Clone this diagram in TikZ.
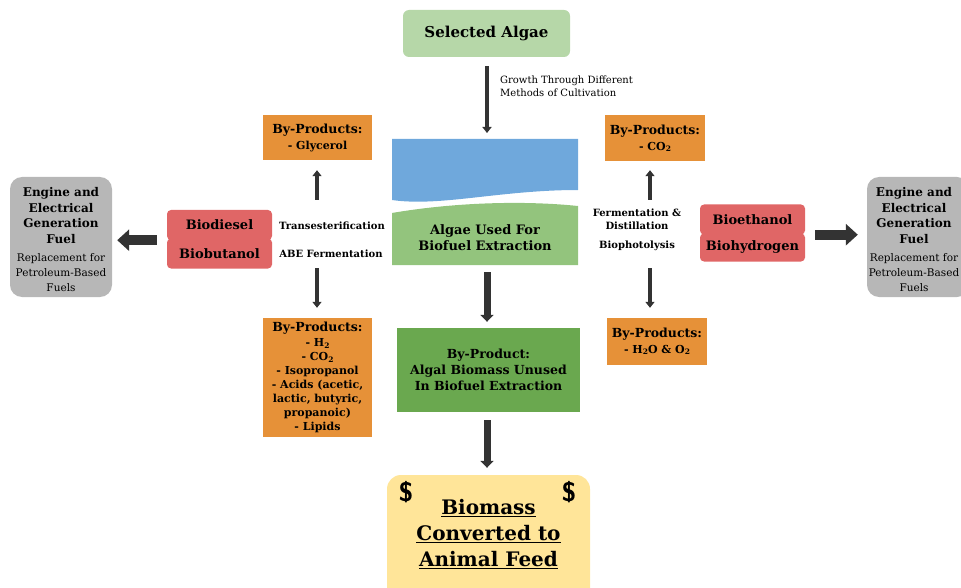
\documentclass[tikz,border=0pt]{standalone}
\usepackage{fontspec}
\setmainfont{DejaVu Serif}
\usepackage{tikz}
\usetikzlibrary{arrows.meta, positioning, calc}
\definecolor{algaelight}{HTML}{B6D7A8}
\definecolor{watercol}{HTML}{6FA8DC}
\definecolor{algaemid}{HTML}{93C47D}
\definecolor{algaedark}{HTML}{6AA84F}
\definecolor{byorange}{HTML}{E69138}
\definecolor{fuelred}{HTML}{E06666}
\definecolor{enginegray}{HTML}{B7B7B7}
\definecolor{feedyellow}{HTML}{FFE599}
\definecolor{arrowgray}{HTML}{333333}
\newcommand{\byitem}{\fontsize{11}{13.4}\selectfont}
\newcommand{\chemsub}[1]{\raisebox{-0.25ex}{\fontsize{7.5}{8}\selectfont #1}}

\begin{document}
\begin{tikzpicture}[
    x=1pt, y=-1pt,
    algaebox/.style={rounded corners=6pt, fill=algaelight, minimum width=167pt,
                     minimum height=47pt, align=center,
                     font=\fontsize{15}{18}\selectfont\bfseries},
    byprod/.style={fill=byorange, minimum width=109pt, align=center,
                   font=\fontsize{12.5}{14}\selectfont\bfseries, inner sep=3pt},
    fuel/.style={rounded corners=4pt, fill=fuelred, minimum width=105pt,
                 minimum height=30pt, align=center,
                 font=\fontsize{13}{15}\selectfont\bfseries},
    engine/.style={rounded corners=12pt, fill=enginegray, minimum width=102pt,
                   minimum height=120pt, align=center},
    procnote/.style={align=center, font=\fontsize{10}{13}\selectfont\bfseries},
    thinarr/.style={-{Triangle[width=9pt,length=6pt]}, line width=4pt, arrowgray},
    midarr/.style={-{Triangle[width=13pt,length=7pt]}, line width=7pt, arrowgray},
    bigarr/.style={-{Triangle[width=21pt,length=12pt]}, line width=10pt, arrowgray}
]
\useasboundingbox (0,0) rectangle (961,588);

% Haut : algues choisies
\node[algaebox] (sel) at (486.5,33.5) {Selected Algae};
\node[align=left, anchor=north west, inner sep=0pt,
      font=\fontsize{10}{13}\selectfont] (grow) at (500,76)
      {Growth Through Different\\Methods of Cultivation};

% Culture : eau + algues
\fill[watercol] (392,139) -- (578,139) -- (578,190)
    .. controls (500,190) and (440,207) .. (392,200) -- cycle;
\fill[algaemid] (392,213) .. controls (450,203) and (520,200) .. (578,206)
    -- (578,265) -- (392,265) -- cycle;
\coordinate (water) at (487,139);
\node[align=center, font=\fontsize{13}{16}\selectfont\bfseries] (used) at (485,238)
      {Algae Used For\\Biofuel Extraction};
\coordinate (usedbot) at (487,265);

% Sous-produit et alimentation animale
\node[fill=algaedark, minimum width=183pt, minimum height=84pt, align=center,
      font=\fontsize{12.5}{16}\selectfont\bfseries] (unused) at (488.5,370)
      {By-Product:\\Algal Biomass Unused\\In Biofuel Extraction};
\node[rounded corners=14pt, fill=feedyellow, minimum width=203pt, minimum height=128pt]
      (feed) at (488.5,539) {};
\node[align=center, font=\fontsize{20}{26}\selectfont\bfseries] (feedtxt) at (488.5,534)
      {\underline{Biomass}\\\underline{Converted to}\\\underline{Animal Feed}};
\node[font=\fontsize{27}{30}\selectfont\bfseries\sffamily] (dolla) at (406,492) {\$};
\node[font=\fontsize{27}{30}\selectfont\bfseries\sffamily] (dollb) at (569,492) {\$};

% Colonne gauche : biodiesel / biobutanol
\node[byprod, minimum height=45pt] (glyc) at (317.5,137.5)
      {By-Products:\\[2pt]\byitem - Glycerol};
\node[byprod, minimum height=119pt] (abe) at (317.5,377.5)
      {By-Products:\\[1pt]\byitem - H\chemsub{2}\\\byitem - CO\chemsub{2}\\\byitem - Isopropanol\\
       \byitem - Acids (acetic,\\\byitem lactic, butyric,\\\byitem propanoic)\\\byitem - Lipids};
\node[fuel] (diesel) at (219.5,225) {Biodiesel};
\node[fuel] (butanol) at (219.5,253.5) {Biobutanol};
\node[procnote] (trans) at (332,226) {Transesterification};
\node[procnote] (abefer) at (331,254) {ABE Fermentation};
\node[engine] (engl) at (61,237) {};
\node[align=center, anchor=north, font=\fontsize{12}{15.5}\selectfont\bfseries] (englt)
      at (61,184) {Engine and\\Electrical\\Generation\\Fuel};
\node[align=center, anchor=north, font=\fontsize{10.5}{15}\selectfont] (englr)
      at (61,250) {Replacement for\\Petroleum-Based\\Fuels};

% Colonne droite : bioethanol / biohydrogene
\node[byprod, minimum width=100pt, minimum height=46pt] (co2) at (655,138)
      {By-Products:\\[2pt]\byitem - CO\chemsub{2}};
\node[byprod, minimum width=100pt, minimum height=47pt] (water2) at (657,341.5)
      {By-Products:\\[2pt]\byitem -\ H\chemsub{2}O \& O\chemsub{2}};
\node[fuel] (ethanol) at (752.5,219.5) {Bioethanol};
\node[fuel, minimum height=28pt] (hydro) at (752.5,247.5) {Biohydrogen};
\node[procnote] (ferm) at (637,219) {Fermentation \&\\Distillation};
\node[procnote] (photo) at (637,246) {Biophotolysis};
\node[engine] (engr) at (918,237) {};
\node[align=center, anchor=north, font=\fontsize{12}{15.5}\selectfont\bfseries] (engrt)
      at (914,184) {Engine and\\Electrical\\Generation\\Fuel};
\node[align=center, anchor=north, font=\fontsize{10.5}{15}\selectfont] (engrr)
      at (914,250) {Replacement for\\Petroleum-Based\\Fuels};

% Points de depart des fleches
\coordinate (lup) at (317,200);
\coordinate (ldown) at (317,268);
\coordinate (rup) at (650,200);
\coordinate (rdown) at (650,268);

% Fleches
\draw[thinarr] ([yshift=-9pt]sel.south -| water) -- ([yshift=6pt]water);
\draw[midarr] ([yshift=-7pt]usedbot) -- ([yshift=6pt]usedbot |- unused.north);
\draw[midarr] ([yshift=-8pt]usedbot |- unused.south) -- ([yshift=7pt]usedbot |- feed.north);
\draw[thinarr] (lup) -- ([yshift=-10pt]glyc.south -| lup);
\draw[thinarr] (ldown) -- ([yshift=10pt]abe.north -| ldown);
\draw[thinarr] (rup) -- ([yshift=-9pt]co2.south -| rup);
\draw[thinarr] (rdown) -- ([yshift=10pt]water2.north -| rdown);
\draw[bigarr] ([xshift=-10pt]diesel.south west) -- ([xshift=5pt]engl.east |- diesel.south west);
\draw[bigarr] ([xshift=10pt]ethanol.south east) -- ([xshift=-9pt]engr.west |- ethanol.south east);

\end{tikzpicture}
\end{document}
